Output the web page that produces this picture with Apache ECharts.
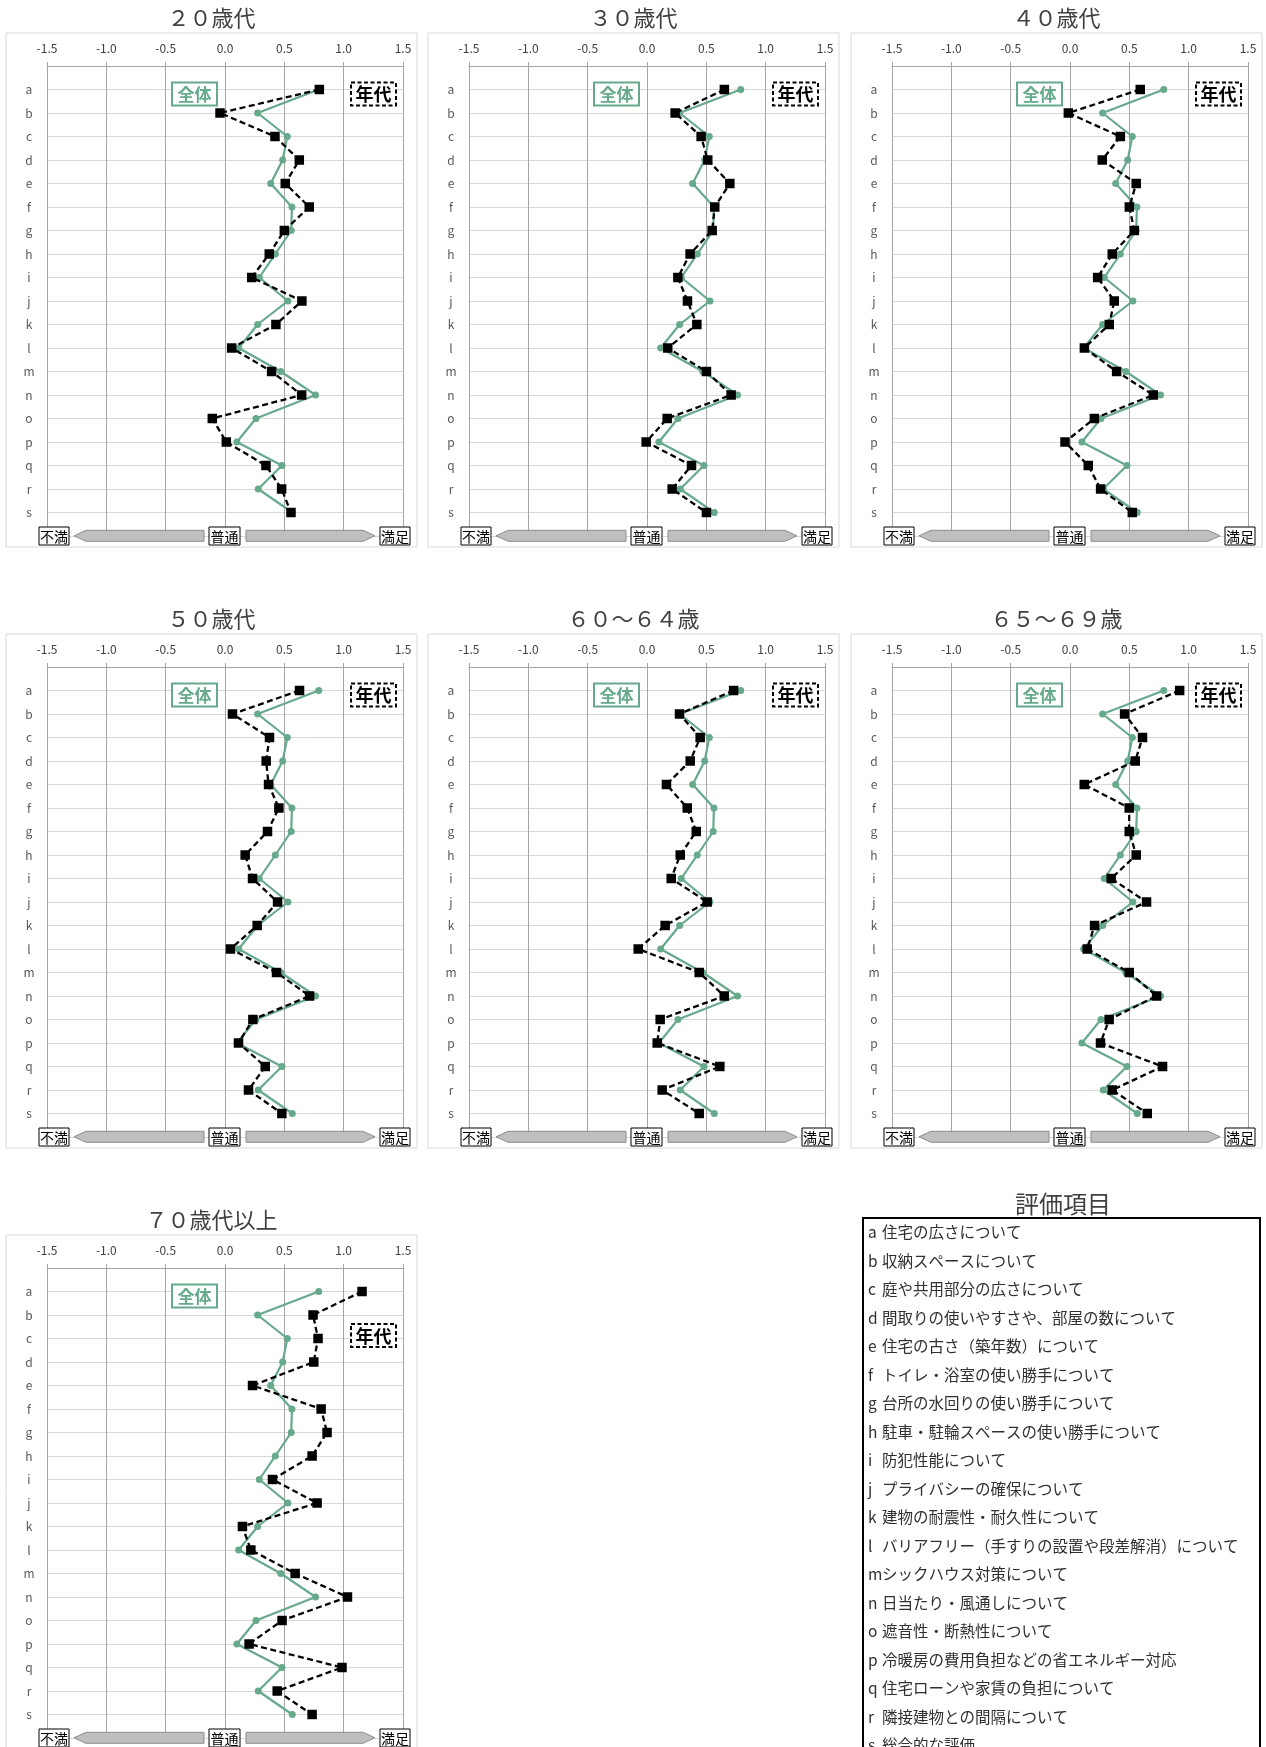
<!DOCTYPE html>
<html><head><meta charset="utf-8">
<script src="https://cdn.jsdelivr.net/npm/echarts@6/dist/echarts.min.js"></script>
<style>html,body{margin:0;padding:0;background:#fff}#c{width:1266px;height:1747px}</style>
</head><body><div id="c"></div><script>
// ---------- data ----------
const categories = ['a','b','c','d','e','f','g','h','i','j','k','l','m','n','o','p','q','r','s'];
const xMin = -1.5, xMax = 1.5, xStep = 0.5;
const overall = [0.79, 0.275, 0.525, 0.486, 0.385, 0.564, 0.558, 0.424, 0.289, 0.53, 0.275, 0.115, 0.47, 0.763, 0.261, 0.10, 0.48, 0.28, 0.567];
const age20   = [0.795, -0.042, 0.421, 0.626, 0.508, 0.71, 0.50, 0.373, 0.225, 0.648, 0.429, 0.056, 0.393, 0.646, -0.107, 0.011, 0.345, 0.477, 0.556];
const age30   = [0.652, 0.237, 0.456, 0.512, 0.698, 0.571, 0.549, 0.363, 0.26, 0.341, 0.42, 0.175, 0.501, 0.709, 0.17, -0.007, 0.375, 0.212, 0.501];
const age40   = [0.592, -0.014, 0.424, 0.272, 0.558, 0.50, 0.542, 0.356, 0.233, 0.373, 0.331, 0.121, 0.393, 0.702, 0.205, -0.042, 0.154, 0.258, 0.525];
const age50   = [0.628, 0.063, 0.375, 0.347, 0.367, 0.454, 0.358, 0.17, 0.232, 0.443, 0.271, 0.046, 0.434, 0.713, 0.235, 0.114, 0.339, 0.198, 0.479];
const age6064 = [0.73, 0.274, 0.448, 0.364, 0.164, 0.339, 0.415, 0.28, 0.204, 0.507, 0.153, -0.074, 0.44, 0.651, 0.111, 0.086, 0.614, 0.128, 0.44];
const age6569 = [0.924, 0.46, 0.611, 0.55, 0.12, 0.499, 0.499, 0.558, 0.347, 0.645, 0.207, 0.145, 0.499, 0.73, 0.33, 0.257, 0.78, 0.356, 0.651];
const age70   = [1.155, 0.742, 0.784, 0.748, 0.232, 0.81, 0.86, 0.734, 0.40, 0.776, 0.147, 0.218, 0.591, 1.032, 0.481, 0.203, 0.986, 0.44, 0.734];
const panelTitles = ['２０歳代','３０歳代','４０歳代','５０歳代','６０～６４歳','６５～６９歳','７０歳代以上'];
const panelSeries = [age20, age30, age40, age50, age6064, age6569, age70];
const overallName = '全体';
const ageName = '年代';
const scaleLabels = ['不満','普通','満足'];
const legendTitle = '評価項目';
const itemTexts = [
 '住宅の広さについて','収納スペースについて','庭や共用部分の広さについて','間取りの使いやすさや、部屋の数について',
 '住宅の古さ（築年数）について','トイレ・浴室の使い勝手について','台所の水回りの使い勝手について',
 '駐車・駐輪スペースの使い勝手について','防犯性能について','プライバシーの確保について','建物の耐震性・耐久性について',
 'バリアフリー（手すりの設置や段差解消）について','シックハウス対策について','日当たり・風通しについて',
 '遮音性・断熱性について','冷暖房の費用負担などの省エネルギー対応','住宅ローンや家賃の負担について',
 '隣接建物との間隔について','総合的な評価'];

// ---------- layout ----------
const FONT = '"Noto Sans CJK JP","Noto Sans",sans-serif';
const GREEN = '#66a98b';
const colLeft = [47, 469, 892], rowTop = [66, 667, 1268];
const PW = 356, PH = 470;
const yCats = [''].concat(categories, ['']);

const grids = [], xAxes = [], yAxes = [], series = [], graphics = [];

function boxText(x, y, w, h, text, opt) {
  graphics.push({type:'rect', z:50, shape:{x, y, width:w, height:h},
    style:{fill:'#fff', stroke:opt.stroke, lineWidth:opt.lw, lineDash:opt.dash || null}});
  graphics.push({type:'text', z:51, x:x + w/2, y:y + h/2 + 0.5,
    style:{text, fill:opt.color, font:opt.font, textAlign:'center', textVerticalAlign:'middle'}});
}

panelSeries.forEach((vals, i) => {
  const col = i % 3, row = Math.floor(i / 3);
  const L = colLeft[col], T = rowTop[row];
  grids.push({left:L, top:T, width:PW, height:PH});
  xAxes.push({gridIndex:i, type:'value', position:'top', min:xMin, max:xMax, interval:xStep,
    axisLine:{show:true, lineStyle:{color:'#a6a6a6', width:1}},
    axisTick:{show:true, length:4, lineStyle:{color:'#a6a6a6'}},
    axisLabel:{formatter:v => v.toFixed(1), color:'#404040', fontSize:12, margin:12, fontFamily:FONT},
    splitLine:{show:true, lineStyle:{color:'#a6a6a6', width:1}}});
  yAxes.push({gridIndex:i, type:'category', inverse:true, boundaryGap:false, data:yCats,
    axisLine:{show:false}, axisTick:{show:false},
    axisLabel:{interval:0, color:'#595959', fontSize:12, margin:18, align:'center', fontFamily:FONT},
    splitLine:{show:true, interval:0, lineStyle:{color:'#d9d9d9', width:1}}});
  series.push({type:'line', name:overallName, xAxisIndex:i, yAxisIndex:i, z:3,
    data:overall.map((v, k) => [v, categories[k]]),
    lineStyle:{color:GREEN, width:2.2}, itemStyle:{color:GREEN},
    symbol:'circle', symbolSize:7, showSymbol:true});
  series.push({type:'line', name:ageName, xAxisIndex:i, yAxisIndex:i, z:4,
    data:vals.map((v, k) => [v, categories[k]]),
    lineStyle:{color:'#000', width:2.3, type:[6, 3.5]}, itemStyle:{color:'#000'},
    symbol:'rect', symbolSize:9.5, showSymbol:true});

  // panel frame + title
  graphics.push({type:'rect', z:0, shape:{x:L - 41, y:T - 33, width:411, height:514},
    style:{fill:null, stroke:'#d9d9d9', lineWidth:1}});
  graphics.push({type:'text', z:5, x:L - 41 + 205.5, y:T - 48,
    style:{text:panelTitles[i], fill:'#404040', font:'22px ' + FONT, textAlign:'center', textVerticalAlign:'middle'}});
  // inline labels
  boxText(L + 125, T + 16.5, 45, 23, overallName, {stroke:GREEN, lw:2, color:GREEN, font:'bold 17px ' + FONT});
  const ty = (i === 6) ? T + 56 : T + 16.5;
  boxText(L + 304, ty, 45, 23, ageName, {stroke:'#000', lw:2, dash:[4, 2.5], color:'#000', font:'bold 18px ' + FONT});
  // scale bar
  const by = T + 461, bh = 18, ay0 = T + 464.3, ay1 = T + 475.3, am = (ay0 + ay1) / 2;
  graphics.push({type:'polygon', z:40, shape:{points:[[L + 27, am], [L + 39, ay0], [L + 157, ay0], [L + 157, ay1], [L + 39, ay1]]},
    style:{fill:'#bfbfbf', stroke:'#8c8c8c', lineWidth:1}});
  graphics.push({type:'polygon', z:40, shape:{points:[[L + 199, ay0], [L + 316, ay0], [L + 328, am], [L + 316, ay1], [L + 199, ay1]]},
    style:{fill:'#bfbfbf', stroke:'#8c8c8c', lineWidth:1}});
  const fb = {stroke:'#000', lw:1, color:'#000', font:'14px ' + FONT};
  boxText(L - 8, by, 30, bh, scaleLabels[0], fb);
  boxText(L + 162, by, 31, bh, scaleLabels[1], fb);
  boxText(L + 333, by, 30, bh, scaleLabels[2], fb);
});

// legend block
graphics.push({type:'text', z:5, x:1063, y:1204,
  style:{text:legendTitle, fill:'#404040', font:'24px ' + FONT, textAlign:'center', textVerticalAlign:'middle'}});
graphics.push({type:'rect', z:5, shape:{x:863, y:1218, width:397, height:600},
  style:{fill:null, stroke:'#000', lineWidth:2}});
categories.forEach((c, k) => {
  const y = 1232.6 + k * 28.5;
  graphics.push({type:'text', z:6, x:868, y,
    style:{text:c, fill:'#303030', font:'15.5px ' + FONT, textAlign:'left', textVerticalAlign:'middle'}});
  graphics.push({type:'text', z:6, x:882, y,
    style:{text:itemTexts[k], fill:'#303030', font:'15.5px ' + FONT, textAlign:'left', textVerticalAlign:'middle'}});
});

const chart = echarts.init(document.getElementById('c'), null, {renderer:'canvas'});
chart.setOption({
  animation:false,
  backgroundColor:'#fff',
  textStyle:{fontFamily:FONT},
  grid:grids, xAxis:xAxes, yAxis:yAxes, series, graphic:graphics
});
</script></body></html>
